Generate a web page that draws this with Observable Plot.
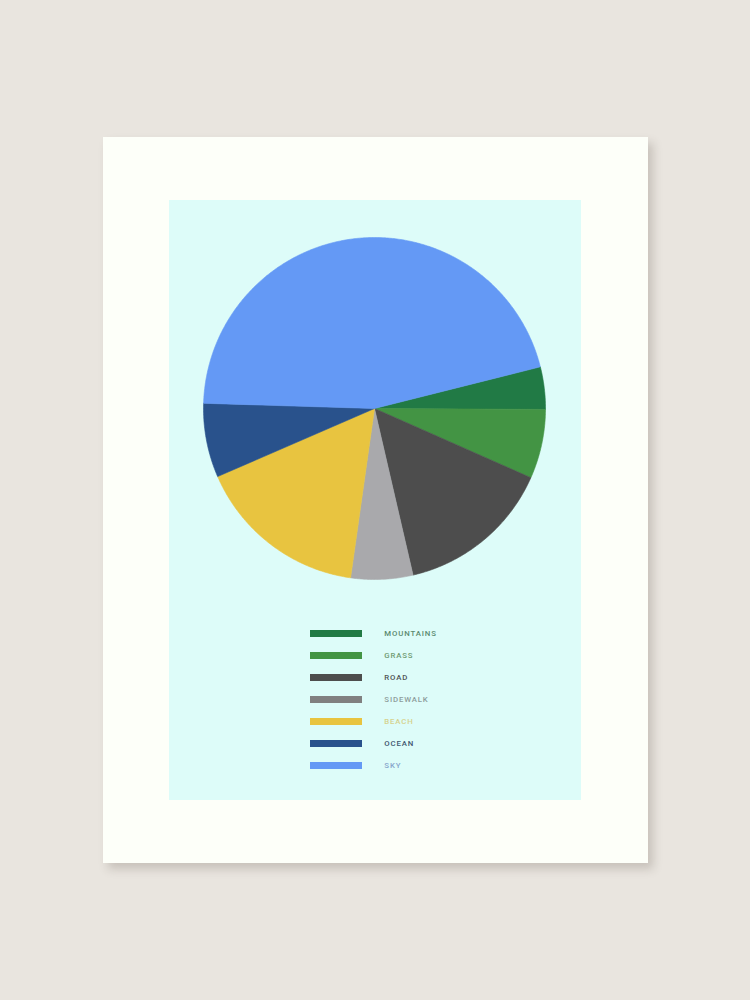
<!DOCTYPE html>
<html>
<head>
<meta charset="utf-8">
<script src="https://cdn.jsdelivr.net/npm/d3@7"></script>
<script src="https://cdn.jsdelivr.net/npm/@observablehq/plot@0.6"></script>
<style>
  html, body { margin: 0; padding: 0; }
  body { width: 750px; height: 1000px; background: #e9e5df; position: relative; overflow: hidden; font-family: Roboto, "Noto Sans", sans-serif; }
  #paper { position: absolute; left: 103px; top: 137px; width: 545px; height: 726px; background: #fdfff9; box-shadow: 5px 6px 9px rgba(80,70,60,0.22); }
  #panel { position: absolute; left: 169px; top: 200px; width: 412px; height: 600px; background: #ddfcf9; }
  #pie { position: absolute; left: 0; top: 0; }
  #legend { position: absolute; left: 0; top: 420px; }
  #legend text { letter-spacing: 0.85px; }
  svg { background: transparent !important; display: block; }
</style>
</head>
<body>
<div id="paper"></div>
<div id="panel"><div id="pie"></div><div id="legend"></div></div>
<script>
// ---- data ----
const categories = ["MOUNTAINS", "GRASS", "ROAD", "SIDEWALK", "BEACH", "OCEAN", "SKY"];
const shares     = [4.0, 6.55, 14.75, 5.85, 16.25, 7.0, 45.6];
const sliceColors  = ["#217a45", "#439444", "#4d4d4d", "#a9a9ac", "#e8c440", "#29528c", "#6499f5"];
const swatchColors = ["#217a45", "#439444", "#4d4d4d", "#808080", "#e8c440", "#29528c", "#6499f5"];
const labelColors  = ["#5b8a70", "#6f9a72", "#4f5555", "#8d9c9b", "#d6d28e", "#3f5670", "#86a6cc"];

// ---- pie geometry (computed from data) ----
const startDeg = -14.1; // screen angle, clockwise from east
const total = d3.sum(shares);
let acc = 0;
const slices = categories.map((c, i) => {
  const a0 = startDeg + acc / total * 360;
  acc += shares[i];
  const a1 = startDeg + acc / total * 360;
  const pts = [{x: 0, y: 0}];
  const n = Math.max(2, Math.ceil((a1 - a0) / 0.5));
  for (let k = 0; k <= n; k++) {
    const t = (a0 + (a1 - a0) * k / n) * Math.PI / 180;
    pts.push({x: Math.cos(t), y: -Math.sin(t)});
  }
  pts.push({x: 0, y: 0});
  return {name: c, color: sliceColors[i], pts};
});

const R = 171, W = 412, H = 600, cx = 205, cy = 208;
const pie = Plot.plot({
  width: W, height: H,
  margin: 0,
  x: {domain: [-cx / R, (W - cx) / R], axis: null},
  y: {domain: [-(H - cy) / R, cy / R], axis: null},
  marks: slices.map(s => Plot.line(s.pts, {x: "x", y: "y", fill: s.color, stroke: s.color, strokeWidth: 0.6, curve: "linear"}))
});
document.getElementById("pie").appendChild(pie);

const legendRows = categories.map((c, i) => ({name: c, swatch: swatchColors[i], label: labelColors[i]}));
const legend = Plot.plot({
  width: W, height: 160,
  margin: 0,
  x: {domain: [0, 1], range: [141, 193], axis: null},
  y: {type: "point", domain: categories, range: [12.5, 145], padding: 0, axis: null},
  marks: [
    Plot.ruleY(legendRows, {y: "name", x1: 0, x2: 1, stroke: "swatch", strokeWidth: 7}),
    Plot.text(legendRows, {y: "name", x: 1.42, dy: -0.5, text: "name", fill: "label", textAnchor: "start",
      fontSize: 7.8, fontWeight: 500, fontFamily: "Roboto, sans-serif"})
  ]
});
document.getElementById("legend").appendChild(legend);
</script>
</body>
</html>
